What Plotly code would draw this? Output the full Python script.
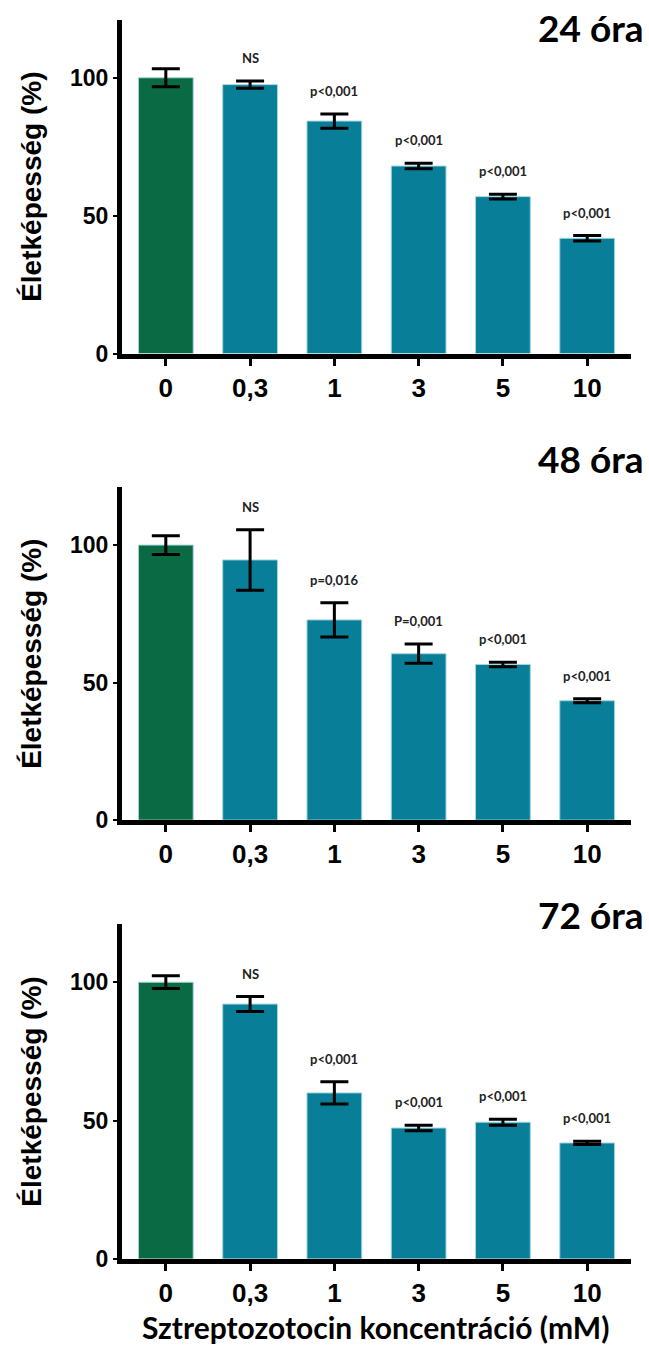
import plotly.graph_objects as go

# ---- data ----
concentrations = ["0", "0,3", "1", "3", "5", "10"]
panel_titles = ["24 óra", "48 óra", "72 óra"]

viability_24h = [100, 97.5, 84.3, 68.0, 56.9, 41.8]
sem_24h = [3.3, 1.3, 2.6, 1.0, 0.9, 1.0]
pvals_24h = ["", "NS", "p<0,001", "p<0,001", "p<0,001", "p<0,001"]

viability_48h = [100, 94.6, 72.8, 60.5, 56.6, 43.4]
sem_48h = [3.4, 11.0, 6.2, 3.5, 0.8, 0.7]
pvals_48h = ["", "NS", "p=0,016", "P=0,001", "p<0,001", "p<0,001"]

viability_72h = [100, 92.1, 60.0, 47.3, 49.4, 41.9]
sem_72h = [2.3, 2.7, 4.0, 1.0, 1.1, 0.6]
pvals_72h = ["", "NS", "p<0,001", "p<0,001", "p<0,001", "p<0,001"]

yticks = [0, 50, 100]
x_title = "Sztreptozotocin koncentráció (mM)"
y_title = "Életképesség (%)"

# ---- style ----
W, H = 649, 1364
GREEN = "#0A6A44"
TEAL = "#087E98"
EDGE = "#a6d6df"
AX_FONT = "Liberation Sans"
TXT_FONT = "Lato"

panels = [
    (viability_24h, sem_24h, pvals_24h),
    (viability_48h, sem_48h, pvals_48h),
    (viability_72h, sem_72h, pvals_72h),
]
# pixel extents of each plot area (top, bottom)
plot_px = [(20, 357), (492, 828), (933, 1271)]
title_px = [28, 463, 923]
x_px = (122, 631)

fig = go.Figure()
annotations = []
layout = dict(
    width=W, height=H,
    margin=dict(l=0, r=0, t=0, b=0),
    paper_bgcolor="white", plot_bgcolor="white",
    showlegend=False,
)

for i, (vals, errs, pv) in enumerate(panels):
    n = "" if i == 0 else str(i + 1)
    xa, ya = "x" + n, "y" + n
    colors = [GREEN] + [TEAL] * (len(vals) - 1)
    fig.add_trace(go.Bar(
        x=concentrations, y=vals, xaxis=xa, yaxis=ya,
        marker=dict(color=colors, line=dict(color=EDGE, width=1)),
        error_y=dict(type="data", array=errs, color="black", thickness=3, width=14),
        width=0.65,
    ))
    top, bot = plot_px[i]
    dom_y = [1 - bot / H, 1 - top / H]
    layout["xaxis" + n] = dict(
        domain=[x_px[0] / W, x_px[1] / W], anchor=ya, type="category",
        range=[-0.52, 5.52], showline=True, linecolor="black", linewidth=5,
        ticks="outside", ticklen=7, tickwidth=3, tickcolor="black",
        tickfont=dict(family=AX_FONT, size=26, color="black", weight="bold"),
        showgrid=False, zeroline=False, fixedrange=True,
    )
    layout["yaxis" + n] = dict(
        domain=dom_y, anchor=xa, range=[0, 121],
        tickvals=yticks, showline=True, linecolor="black", linewidth=5,
        ticks="outside", ticklen=4, tickwidth=2, tickcolor="black",
        tickfont=dict(family=AX_FONT, size=23, color="black", weight="bold"),
        showgrid=False, zeroline=False, fixedrange=True,
        title=dict(text=y_title, standoff=22,
                   font=dict(family=AX_FONT, size=28, color="black", weight="bold")),
    )
    # p-value labels (x given as category index)
    for k, (v, e, t) in enumerate(zip(vals, errs, pv)):
        if t:
            annotations.append(dict(
                x=k, y=v + e + 8.3, xref=xa, yref=ya, text=t, showarrow=False,
                yanchor="middle",
                font=dict(family=TXT_FONT, size=13, color="#222222", weight="bold"),
            ))
    # panel title
    annotations.append(dict(
        x=646 / W, y=1 - title_px[i] / H, xref="paper", yref="paper",
        text=panel_titles[i], showarrow=False, xanchor="right", yanchor="middle",
        font=dict(family=TXT_FONT, size=37, color="black", weight="bold"),
    ))

annotations.append(dict(
    x=375 / W, y=1 - 1340 / H, xref="paper", yref="paper", text=x_title,
    showarrow=False, xanchor="center", yanchor="middle",
    font=dict(family=TXT_FONT, size=30, color="black", weight="bold"),
))
layout["annotations"] = annotations
fig.update_layout(**layout)
fig.write_html(
    "out.html",
    config={"displayModeBar": False},
    post_script="document.body.style.margin='0';document.body.style.padding='0';"
                "document.body.style.overflow='hidden';",
)
